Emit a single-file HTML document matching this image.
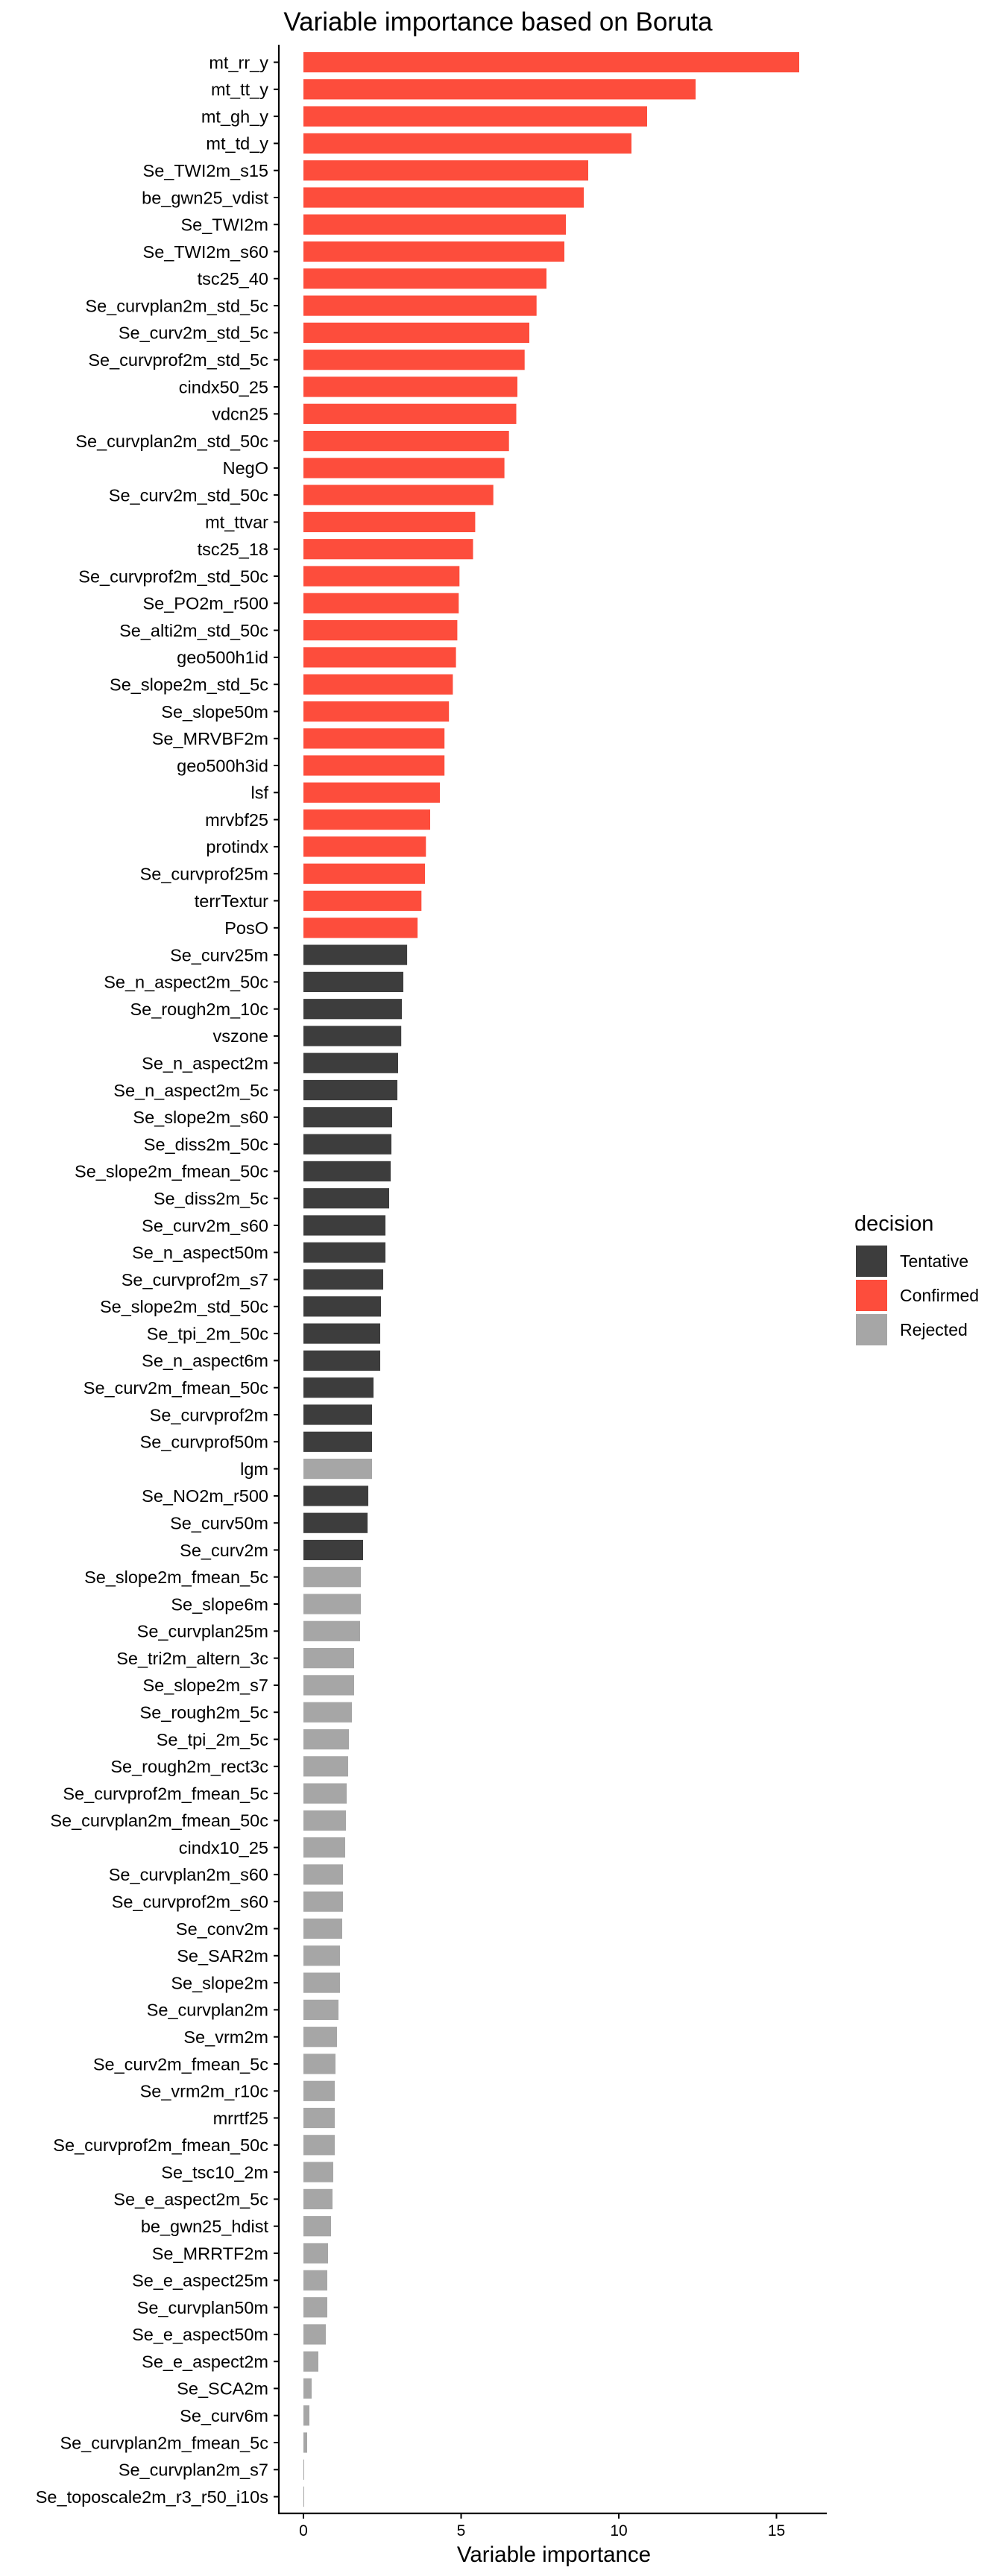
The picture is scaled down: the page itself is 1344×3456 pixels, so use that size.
<!DOCTYPE html>
<html><head><meta charset="utf-8"><style>
html,body{margin:0;padding:0;background:#fff;}
svg{display:block;font-family:"Liberation Sans",Arial,sans-serif;}
.l{font-size:23.5px;fill:#000;text-anchor:end;}
.r{fill:#FD4D3C}.d{fill:#3D3D3D}.g{fill:#A6A6A6}
</style></head><body>
<svg width="1344" height="3456" viewBox="0 0 1344 3456" xmlns="http://www.w3.org/2000/svg">
<rect width="1344" height="3456" fill="#fff"/>
<text x="668" y="41" font-size="35" text-anchor="middle">Variable importance based on Boruta</text>
<g id="rows">
<g transform="translate(0,83.5)"><rect class="r" x="407" y="-13.6" width="665" height="27.2"/><line x1="367" x2="374" stroke="#000" stroke-width="2"/><text class="l" x="360" y="8.3">mt_rr_y</text></g>
<g transform="translate(0,119.8)"><rect class="r" x="407" y="-13.6" width="526" height="27.2"/><line x1="367" x2="374" stroke="#000" stroke-width="2"/><text class="l" x="360" y="8.3">mt_tt_y</text></g>
<g transform="translate(0,156.1)"><rect class="r" x="407" y="-13.6" width="461" height="27.2"/><line x1="367" x2="374" stroke="#000" stroke-width="2"/><text class="l" x="360" y="8.3">mt_gh_y</text></g>
<g transform="translate(0,192.4)"><rect class="r" x="407" y="-13.6" width="440" height="27.2"/><line x1="367" x2="374" stroke="#000" stroke-width="2"/><text class="l" x="360" y="8.3">mt_td_y</text></g>
<g transform="translate(0,228.7)"><rect class="r" x="407" y="-13.6" width="382" height="27.2"/><line x1="367" x2="374" stroke="#000" stroke-width="2"/><text class="l" x="360" y="8.3">Se_TWI2m_s15</text></g>
<g transform="translate(0,265.0)"><rect class="r" x="407" y="-13.6" width="376" height="27.2"/><line x1="367" x2="374" stroke="#000" stroke-width="2"/><text class="l" x="360" y="8.3">be_gwn25_vdist</text></g>
<g transform="translate(0,301.2)"><rect class="r" x="407" y="-13.6" width="352" height="27.2"/><line x1="367" x2="374" stroke="#000" stroke-width="2"/><text class="l" x="360" y="8.3">Se_TWI2m</text></g>
<g transform="translate(0,337.5)"><rect class="r" x="407" y="-13.6" width="350" height="27.2"/><line x1="367" x2="374" stroke="#000" stroke-width="2"/><text class="l" x="360" y="8.3">Se_TWI2m_s60</text></g>
<g transform="translate(0,373.8)"><rect class="r" x="407" y="-13.6" width="326" height="27.2"/><line x1="367" x2="374" stroke="#000" stroke-width="2"/><text class="l" x="360" y="8.3">tsc25_40</text></g>
<g transform="translate(0,410.1)"><rect class="r" x="407" y="-13.6" width="312.7" height="27.2"/><line x1="367" x2="374" stroke="#000" stroke-width="2"/><text class="l" x="360" y="8.3">Se_curvplan2m_std_5c</text></g>
<g transform="translate(0,446.4)"><rect class="r" x="407" y="-13.6" width="303" height="27.2"/><line x1="367" x2="374" stroke="#000" stroke-width="2"/><text class="l" x="360" y="8.3">Se_curv2m_std_5c</text></g>
<g transform="translate(0,482.7)"><rect class="r" x="407" y="-13.6" width="296.7" height="27.2"/><line x1="367" x2="374" stroke="#000" stroke-width="2"/><text class="l" x="360" y="8.3">Se_curvprof2m_std_5c</text></g>
<g transform="translate(0,519.0)"><rect class="r" x="407" y="-13.6" width="287" height="27.2"/><line x1="367" x2="374" stroke="#000" stroke-width="2"/><text class="l" x="360" y="8.3">cindx50_25</text></g>
<g transform="translate(0,555.3)"><rect class="r" x="407" y="-13.6" width="285.5" height="27.2"/><line x1="367" x2="374" stroke="#000" stroke-width="2"/><text class="l" x="360" y="8.3">vdcn25</text></g>
<g transform="translate(0,591.6)"><rect class="r" x="407" y="-13.6" width="275.7" height="27.2"/><line x1="367" x2="374" stroke="#000" stroke-width="2"/><text class="l" x="360" y="8.3">Se_curvplan2m_std_50c</text></g>
<g transform="translate(0,627.9)"><rect class="r" x="407" y="-13.6" width="269.6" height="27.2"/><line x1="367" x2="374" stroke="#000" stroke-width="2"/><text class="l" x="360" y="8.3">NegO</text></g>
<g transform="translate(0,664.1)"><rect class="r" x="407" y="-13.6" width="254.7" height="27.2"/><line x1="367" x2="374" stroke="#000" stroke-width="2"/><text class="l" x="360" y="8.3">Se_curv2m_std_50c</text></g>
<g transform="translate(0,700.4)"><rect class="r" x="407" y="-13.6" width="230.4" height="27.2"/><line x1="367" x2="374" stroke="#000" stroke-width="2"/><text class="l" x="360" y="8.3">mt_ttvar</text></g>
<g transform="translate(0,736.7)"><rect class="r" x="407" y="-13.6" width="227.5" height="27.2"/><line x1="367" x2="374" stroke="#000" stroke-width="2"/><text class="l" x="360" y="8.3">tsc25_18</text></g>
<g transform="translate(0,773.0)"><rect class="r" x="407" y="-13.6" width="209.3" height="27.2"/><line x1="367" x2="374" stroke="#000" stroke-width="2"/><text class="l" x="360" y="8.3">Se_curvprof2m_std_50c</text></g>
<g transform="translate(0,809.3)"><rect class="r" x="407" y="-13.6" width="208.3" height="27.2"/><line x1="367" x2="374" stroke="#000" stroke-width="2"/><text class="l" x="360" y="8.3">Se_PO2m_r500</text></g>
<g transform="translate(0,845.6)"><rect class="r" x="407" y="-13.6" width="206.4" height="27.2"/><line x1="367" x2="374" stroke="#000" stroke-width="2"/><text class="l" x="360" y="8.3">Se_alti2m_std_50c</text></g>
<g transform="translate(0,881.9)"><rect class="r" x="407" y="-13.6" width="204.6" height="27.2"/><line x1="367" x2="374" stroke="#000" stroke-width="2"/><text class="l" x="360" y="8.3">geo500h1id</text></g>
<g transform="translate(0,918.2)"><rect class="r" x="407" y="-13.6" width="200.4" height="27.2"/><line x1="367" x2="374" stroke="#000" stroke-width="2"/><text class="l" x="360" y="8.3">Se_slope2m_std_5c</text></g>
<g transform="translate(0,954.5)"><rect class="r" x="407" y="-13.6" width="195.2" height="27.2"/><line x1="367" x2="374" stroke="#000" stroke-width="2"/><text class="l" x="360" y="8.3">Se_slope50m</text></g>
<g transform="translate(0,990.8)"><rect class="r" x="407" y="-13.6" width="189.2" height="27.2"/><line x1="367" x2="374" stroke="#000" stroke-width="2"/><text class="l" x="360" y="8.3">Se_MRVBF2m</text></g>
<g transform="translate(0,1027.0)"><rect class="r" x="407" y="-13.6" width="189.2" height="27.2"/><line x1="367" x2="374" stroke="#000" stroke-width="2"/><text class="l" x="360" y="8.3">geo500h3id</text></g>
<g transform="translate(0,1063.3)"><rect class="r" x="407" y="-13.6" width="183.1" height="27.2"/><line x1="367" x2="374" stroke="#000" stroke-width="2"/><text class="l" x="360" y="8.3">lsf</text></g>
<g transform="translate(0,1099.6)"><rect class="r" x="407" y="-13.6" width="170" height="27.2"/><line x1="367" x2="374" stroke="#000" stroke-width="2"/><text class="l" x="360" y="8.3">mrvbf25</text></g>
<g transform="translate(0,1135.9)"><rect class="r" x="407" y="-13.6" width="164.3" height="27.2"/><line x1="367" x2="374" stroke="#000" stroke-width="2"/><text class="l" x="360" y="8.3">protindx</text></g>
<g transform="translate(0,1172.2)"><rect class="r" x="407" y="-13.6" width="163" height="27.2"/><line x1="367" x2="374" stroke="#000" stroke-width="2"/><text class="l" x="360" y="8.3">Se_curvprof25m</text></g>
<g transform="translate(0,1208.5)"><rect class="r" x="407" y="-13.6" width="158.3" height="27.2"/><line x1="367" x2="374" stroke="#000" stroke-width="2"/><text class="l" x="360" y="8.3">terrTextur</text></g>
<g transform="translate(0,1244.8)"><rect class="r" x="407" y="-13.6" width="153.1" height="27.2"/><line x1="367" x2="374" stroke="#000" stroke-width="2"/><text class="l" x="360" y="8.3">PosO</text></g>
<g transform="translate(0,1281.1)"><rect class="d" x="407" y="-13.6" width="139.1" height="27.2"/><line x1="367" x2="374" stroke="#000" stroke-width="2"/><text class="l" x="360" y="8.3">Se_curv25m</text></g>
<g transform="translate(0,1317.4)"><rect class="d" x="407" y="-13.6" width="134" height="27.2"/><line x1="367" x2="374" stroke="#000" stroke-width="2"/><text class="l" x="360" y="8.3">Se_n_aspect2m_50c</text></g>
<g transform="translate(0,1353.7)"><rect class="d" x="407" y="-13.6" width="132" height="27.2"/><line x1="367" x2="374" stroke="#000" stroke-width="2"/><text class="l" x="360" y="8.3">Se_rough2m_10c</text></g>
<g transform="translate(0,1389.9)"><rect class="d" x="407" y="-13.6" width="131.2" height="27.2"/><line x1="367" x2="374" stroke="#000" stroke-width="2"/><text class="l" x="360" y="8.3">vszone</text></g>
<g transform="translate(0,1426.2)"><rect class="d" x="407" y="-13.6" width="127" height="27.2"/><line x1="367" x2="374" stroke="#000" stroke-width="2"/><text class="l" x="360" y="8.3">Se_n_aspect2m</text></g>
<g transform="translate(0,1462.5)"><rect class="d" x="407" y="-13.6" width="126" height="27.2"/><line x1="367" x2="374" stroke="#000" stroke-width="2"/><text class="l" x="360" y="8.3">Se_n_aspect2m_5c</text></g>
<g transform="translate(0,1498.8)"><rect class="d" x="407" y="-13.6" width="119" height="27.2"/><line x1="367" x2="374" stroke="#000" stroke-width="2"/><text class="l" x="360" y="8.3">Se_slope2m_s60</text></g>
<g transform="translate(0,1535.1)"><rect class="d" x="407" y="-13.6" width="118" height="27.2"/><line x1="367" x2="374" stroke="#000" stroke-width="2"/><text class="l" x="360" y="8.3">Se_diss2m_50c</text></g>
<g transform="translate(0,1571.4)"><rect class="d" x="407" y="-13.6" width="117" height="27.2"/><line x1="367" x2="374" stroke="#000" stroke-width="2"/><text class="l" x="360" y="8.3">Se_slope2m_fmean_50c</text></g>
<g transform="translate(0,1607.7)"><rect class="d" x="407" y="-13.6" width="115" height="27.2"/><line x1="367" x2="374" stroke="#000" stroke-width="2"/><text class="l" x="360" y="8.3">Se_diss2m_5c</text></g>
<g transform="translate(0,1644.0)"><rect class="d" x="407" y="-13.6" width="110" height="27.2"/><line x1="367" x2="374" stroke="#000" stroke-width="2"/><text class="l" x="360" y="8.3">Se_curv2m_s60</text></g>
<g transform="translate(0,1680.3)"><rect class="d" x="407" y="-13.6" width="110" height="27.2"/><line x1="367" x2="374" stroke="#000" stroke-width="2"/><text class="l" x="360" y="8.3">Se_n_aspect50m</text></g>
<g transform="translate(0,1716.6)"><rect class="d" x="407" y="-13.6" width="107" height="27.2"/><line x1="367" x2="374" stroke="#000" stroke-width="2"/><text class="l" x="360" y="8.3">Se_curvprof2m_s7</text></g>
<g transform="translate(0,1752.8)"><rect class="d" x="407" y="-13.6" width="104" height="27.2"/><line x1="367" x2="374" stroke="#000" stroke-width="2"/><text class="l" x="360" y="8.3">Se_slope2m_std_50c</text></g>
<g transform="translate(0,1789.1)"><rect class="d" x="407" y="-13.6" width="103" height="27.2"/><line x1="367" x2="374" stroke="#000" stroke-width="2"/><text class="l" x="360" y="8.3">Se_tpi_2m_50c</text></g>
<g transform="translate(0,1825.4)"><rect class="d" x="407" y="-13.6" width="103" height="27.2"/><line x1="367" x2="374" stroke="#000" stroke-width="2"/><text class="l" x="360" y="8.3">Se_n_aspect6m</text></g>
<g transform="translate(0,1861.7)"><rect class="d" x="407" y="-13.6" width="94" height="27.2"/><line x1="367" x2="374" stroke="#000" stroke-width="2"/><text class="l" x="360" y="8.3">Se_curv2m_fmean_50c</text></g>
<g transform="translate(0,1898.0)"><rect class="d" x="407" y="-13.6" width="92" height="27.2"/><line x1="367" x2="374" stroke="#000" stroke-width="2"/><text class="l" x="360" y="8.3">Se_curvprof2m</text></g>
<g transform="translate(0,1934.3)"><rect class="d" x="407" y="-13.6" width="92" height="27.2"/><line x1="367" x2="374" stroke="#000" stroke-width="2"/><text class="l" x="360" y="8.3">Se_curvprof50m</text></g>
<g transform="translate(0,1970.6)"><rect class="g" x="407" y="-13.6" width="92" height="27.2"/><line x1="367" x2="374" stroke="#000" stroke-width="2"/><text class="l" x="360" y="8.3">lgm</text></g>
<g transform="translate(0,2006.9)"><rect class="d" x="407" y="-13.6" width="87" height="27.2"/><line x1="367" x2="374" stroke="#000" stroke-width="2"/><text class="l" x="360" y="8.3">Se_NO2m_r500</text></g>
<g transform="translate(0,2043.2)"><rect class="d" x="407" y="-13.6" width="86" height="27.2"/><line x1="367" x2="374" stroke="#000" stroke-width="2"/><text class="l" x="360" y="8.3">Se_curv50m</text></g>
<g transform="translate(0,2079.5)"><rect class="d" x="407" y="-13.6" width="80" height="27.2"/><line x1="367" x2="374" stroke="#000" stroke-width="2"/><text class="l" x="360" y="8.3">Se_curv2m</text></g>
<g transform="translate(0,2115.7)"><rect class="g" x="407" y="-13.6" width="77" height="27.2"/><line x1="367" x2="374" stroke="#000" stroke-width="2"/><text class="l" x="360" y="8.3">Se_slope2m_fmean_5c</text></g>
<g transform="translate(0,2152.0)"><rect class="g" x="407" y="-13.6" width="77" height="27.2"/><line x1="367" x2="374" stroke="#000" stroke-width="2"/><text class="l" x="360" y="8.3">Se_slope6m</text></g>
<g transform="translate(0,2188.3)"><rect class="g" x="407" y="-13.6" width="76" height="27.2"/><line x1="367" x2="374" stroke="#000" stroke-width="2"/><text class="l" x="360" y="8.3">Se_curvplan25m</text></g>
<g transform="translate(0,2224.6)"><rect class="g" x="407" y="-13.6" width="68" height="27.2"/><line x1="367" x2="374" stroke="#000" stroke-width="2"/><text class="l" x="360" y="8.3">Se_tri2m_altern_3c</text></g>
<g transform="translate(0,2260.9)"><rect class="g" x="407" y="-13.6" width="68" height="27.2"/><line x1="367" x2="374" stroke="#000" stroke-width="2"/><text class="l" x="360" y="8.3">Se_slope2m_s7</text></g>
<g transform="translate(0,2297.2)"><rect class="g" x="407" y="-13.6" width="65" height="27.2"/><line x1="367" x2="374" stroke="#000" stroke-width="2"/><text class="l" x="360" y="8.3">Se_rough2m_5c</text></g>
<g transform="translate(0,2333.5)"><rect class="g" x="407" y="-13.6" width="61" height="27.2"/><line x1="367" x2="374" stroke="#000" stroke-width="2"/><text class="l" x="360" y="8.3">Se_tpi_2m_5c</text></g>
<g transform="translate(0,2369.8)"><rect class="g" x="407" y="-13.6" width="60" height="27.2"/><line x1="367" x2="374" stroke="#000" stroke-width="2"/><text class="l" x="360" y="8.3">Se_rough2m_rect3c</text></g>
<g transform="translate(0,2406.1)"><rect class="g" x="407" y="-13.6" width="58" height="27.2"/><line x1="367" x2="374" stroke="#000" stroke-width="2"/><text class="l" x="360" y="8.3">Se_curvprof2m_fmean_5c</text></g>
<g transform="translate(0,2442.4)"><rect class="g" x="407" y="-13.6" width="57" height="27.2"/><line x1="367" x2="374" stroke="#000" stroke-width="2"/><text class="l" x="360" y="8.3">Se_curvplan2m_fmean_50c</text></g>
<g transform="translate(0,2478.6)"><rect class="g" x="407" y="-13.6" width="56" height="27.2"/><line x1="367" x2="374" stroke="#000" stroke-width="2"/><text class="l" x="360" y="8.3">cindx10_25</text></g>
<g transform="translate(0,2514.9)"><rect class="g" x="407" y="-13.6" width="53" height="27.2"/><line x1="367" x2="374" stroke="#000" stroke-width="2"/><text class="l" x="360" y="8.3">Se_curvplan2m_s60</text></g>
<g transform="translate(0,2551.2)"><rect class="g" x="407" y="-13.6" width="53" height="27.2"/><line x1="367" x2="374" stroke="#000" stroke-width="2"/><text class="l" x="360" y="8.3">Se_curvprof2m_s60</text></g>
<g transform="translate(0,2587.5)"><rect class="g" x="407" y="-13.6" width="52" height="27.2"/><line x1="367" x2="374" stroke="#000" stroke-width="2"/><text class="l" x="360" y="8.3">Se_conv2m</text></g>
<g transform="translate(0,2623.8)"><rect class="g" x="407" y="-13.6" width="49" height="27.2"/><line x1="367" x2="374" stroke="#000" stroke-width="2"/><text class="l" x="360" y="8.3">Se_SAR2m</text></g>
<g transform="translate(0,2660.1)"><rect class="g" x="407" y="-13.6" width="49" height="27.2"/><line x1="367" x2="374" stroke="#000" stroke-width="2"/><text class="l" x="360" y="8.3">Se_slope2m</text></g>
<g transform="translate(0,2696.4)"><rect class="g" x="407" y="-13.6" width="47" height="27.2"/><line x1="367" x2="374" stroke="#000" stroke-width="2"/><text class="l" x="360" y="8.3">Se_curvplan2m</text></g>
<g transform="translate(0,2732.7)"><rect class="g" x="407" y="-13.6" width="45" height="27.2"/><line x1="367" x2="374" stroke="#000" stroke-width="2"/><text class="l" x="360" y="8.3">Se_vrm2m</text></g>
<g transform="translate(0,2769.0)"><rect class="g" x="407" y="-13.6" width="43" height="27.2"/><line x1="367" x2="374" stroke="#000" stroke-width="2"/><text class="l" x="360" y="8.3">Se_curv2m_fmean_5c</text></g>
<g transform="translate(0,2805.3)"><rect class="g" x="407" y="-13.6" width="42" height="27.2"/><line x1="367" x2="374" stroke="#000" stroke-width="2"/><text class="l" x="360" y="8.3">Se_vrm2m_r10c</text></g>
<g transform="translate(0,2841.5)"><rect class="g" x="407" y="-13.6" width="42" height="27.2"/><line x1="367" x2="374" stroke="#000" stroke-width="2"/><text class="l" x="360" y="8.3">mrrtf25</text></g>
<g transform="translate(0,2877.8)"><rect class="g" x="407" y="-13.6" width="42" height="27.2"/><line x1="367" x2="374" stroke="#000" stroke-width="2"/><text class="l" x="360" y="8.3">Se_curvprof2m_fmean_50c</text></g>
<g transform="translate(0,2914.1)"><rect class="g" x="407" y="-13.6" width="40" height="27.2"/><line x1="367" x2="374" stroke="#000" stroke-width="2"/><text class="l" x="360" y="8.3">Se_tsc10_2m</text></g>
<g transform="translate(0,2950.4)"><rect class="g" x="407" y="-13.6" width="39" height="27.2"/><line x1="367" x2="374" stroke="#000" stroke-width="2"/><text class="l" x="360" y="8.3">Se_e_aspect2m_5c</text></g>
<g transform="translate(0,2986.7)"><rect class="g" x="407" y="-13.6" width="37" height="27.2"/><line x1="367" x2="374" stroke="#000" stroke-width="2"/><text class="l" x="360" y="8.3">be_gwn25_hdist</text></g>
<g transform="translate(0,3023.0)"><rect class="g" x="407" y="-13.6" width="33" height="27.2"/><line x1="367" x2="374" stroke="#000" stroke-width="2"/><text class="l" x="360" y="8.3">Se_MRRTF2m</text></g>
<g transform="translate(0,3059.3)"><rect class="g" x="407" y="-13.6" width="32" height="27.2"/><line x1="367" x2="374" stroke="#000" stroke-width="2"/><text class="l" x="360" y="8.3">Se_e_aspect25m</text></g>
<g transform="translate(0,3095.6)"><rect class="g" x="407" y="-13.6" width="32" height="27.2"/><line x1="367" x2="374" stroke="#000" stroke-width="2"/><text class="l" x="360" y="8.3">Se_curvplan50m</text></g>
<g transform="translate(0,3131.9)"><rect class="g" x="407" y="-13.6" width="30" height="27.2"/><line x1="367" x2="374" stroke="#000" stroke-width="2"/><text class="l" x="360" y="8.3">Se_e_aspect50m</text></g>
<g transform="translate(0,3168.2)"><rect class="g" x="407" y="-13.6" width="20" height="27.2"/><line x1="367" x2="374" stroke="#000" stroke-width="2"/><text class="l" x="360" y="8.3">Se_e_aspect2m</text></g>
<g transform="translate(0,3204.4)"><rect class="g" x="407" y="-13.6" width="11" height="27.2"/><line x1="367" x2="374" stroke="#000" stroke-width="2"/><text class="l" x="360" y="8.3">Se_SCA2m</text></g>
<g transform="translate(0,3240.7)"><rect class="g" x="407" y="-13.6" width="8" height="27.2"/><line x1="367" x2="374" stroke="#000" stroke-width="2"/><text class="l" x="360" y="8.3">Se_curv6m</text></g>
<g transform="translate(0,3277.0)"><rect class="g" x="407" y="-13.6" width="5" height="27.2"/><line x1="367" x2="374" stroke="#000" stroke-width="2"/><text class="l" x="360" y="8.3">Se_curvplan2m_fmean_5c</text></g>
<g transform="translate(0,3313.3)"><rect class="g" x="407" y="-13.6" width="1" height="27.2"/><line x1="367" x2="374" stroke="#000" stroke-width="2"/><text class="l" x="360" y="8.3">Se_curvplan2m_s7</text></g>
<g transform="translate(0,3349.6)"><rect class="g" x="407" y="-13.6" width="1" height="27.2"/><line x1="367" x2="374" stroke="#000" stroke-width="2"/><text class="l" x="360" y="8.3">Se_toposcale2m_r3_r50_i10s</text></g>
</g>
<line x1="374" y1="60" x2="374" y2="3373" stroke="#000" stroke-width="2.2"/>
<line x1="373" y1="3372" x2="1109" y2="3372" stroke="#000" stroke-width="2.2"/>
<g stroke="#000" stroke-width="2">
<line x1="407" y1="3372" x2="407" y2="3379"/>
<line x1="618.5" y1="3372" x2="618.5" y2="3379"/>
<line x1="830" y1="3372" x2="830" y2="3379"/>
<line x1="1041.5" y1="3372" x2="1041.5" y2="3379"/>
</g>
<g font-size="21" text-anchor="middle">
<text x="407" y="3402">0</text>
<text x="618.5" y="3402">5</text>
<text x="830" y="3402">10</text>
<text x="1041.5" y="3402">15</text>
</g>
<text x="743" y="3437" font-size="29.5" text-anchor="middle">Variable importance</text>
<text x="1146" y="1651" font-size="29">decision</text>
<rect x="1148" y="1671" width="42" height="42" fill="#3D3D3D"/>
<rect x="1148" y="1717" width="42" height="42" fill="#FD4D3C"/>
<rect x="1148" y="1763" width="42" height="42" fill="#A6A6A6"/>
<g font-size="23">
<text x="1207" y="1700">Tentative</text>
<text x="1207" y="1746">Confirmed</text>
<text x="1207" y="1792">Rejected</text>
</g>
</svg>
</body></html>
